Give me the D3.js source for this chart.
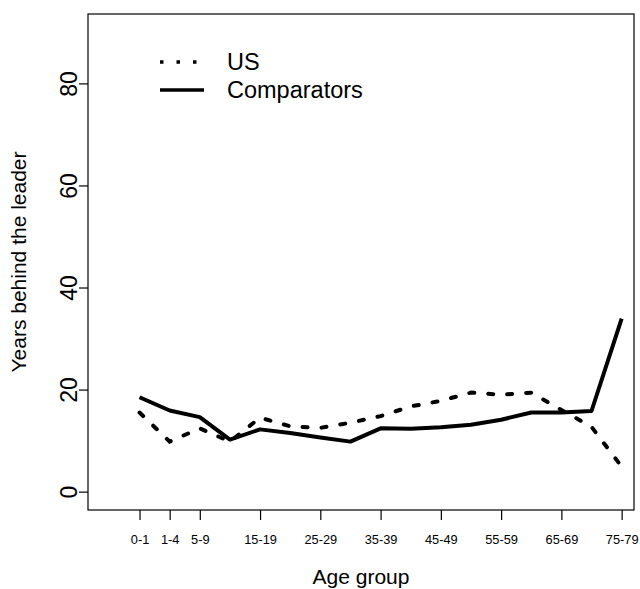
<!DOCTYPE html>
<html>
<head>
<meta charset="utf-8">
<script src="https://cdn.jsdelivr.net/npm/d3@7"></script>
<style>
  body { margin: 0; background: #fff; }
  svg { display: block; font-family: "Liberation Sans", Arial, sans-serif; }
</style>
</head>
<body>
<svg class="chart"></svg>
<script>
const ageGroups = ["0-1", "1-4", "5-9", "10-14", "15-19", "20-24", "25-29", "30-34",
  "35-39", "40-44", "45-49", "50-54", "55-59", "60-64", "65-69", "70-74", "75-79"];
const tickLabels = ["0-1", "1-4", "5-9", "15-19", "25-29", "35-39", "45-49", "55-59", "65-69", "75-79"];
const usValues = [15.5, 9.8, 12.4, 9.8, 14.5, 12.8, 12.5, 13.5, 14.8, 16.7, 17.8, 19.4, 19.0, 19.4, 16.0, 12.7, 4.9];
const comparatorValues = [18.5, 15.9, 14.6, 10.2, 12.2, 11.5, 10.6, 9.8, 12.4, 12.3, 12.6, 13.1, 14.1, 15.5, 15.5, 15.8, 33.9];
const yTicks = [0, 20, 40, 60, 80];

const width = 640;
const height = 589;
const box = {left: 88, right: 634, top: 14, bottom: 510};

// index positions, with R-style padding around the age groups
const x = d3.scaleLinear()
    .domain([-1.71, 16.41])
    .range([box.left, box.right]);

const y = d3.scaleLinear()
    .domain([-3.6, 93.6])
    .range([box.bottom, box.top]);

const svg = d3.select(".chart")
    .attr("width", width)
    .attr("height", height);

svg.append("rect")
    .attr("x", box.left)
    .attr("y", box.top)
    .attr("width", box.right - box.left)
    .attr("height", box.bottom - box.top)
    .attr("fill", "none")
    .attr("stroke", "#000")
    .attr("stroke-width", 1.2);

const xAxis = d3.axisBottom(x)
    .tickValues(tickLabels.map((d) => ageGroups.indexOf(d)))
    .tickFormat((d) => ageGroups[d])
    .tickSize(10)
    .tickPadding(15);

svg.append("g")
    .attr("transform", `translate(0,${ box.bottom })`)
    .call(xAxis)
    .call((g) => g.select(".domain").remove())
    .call((g) => g.selectAll("line").attr("stroke-width", 1.2))
    .call((g) => g.selectAll("text")
      .attr("font-size", 12.8)
      .attr("font-family", "Liberation Sans, Arial, sans-serif")
      .attr("fill", "#000"));

const yAxis = d3.axisLeft(y)
    .tickValues(yTicks)
    .tickSize(9)
    .tickFormat((d) => d);

const yG = svg.append("g")
    .attr("transform", `translate(${ box.left },0)`)
    .call(yAxis)
    .call((g) => g.select(".domain").remove())
    .call((g) => g.selectAll("line").attr("stroke-width", 1.2));

yG.selectAll("text")
    .attr("x", null)
    .attr("dy", null)
    .attr("font-size", 23)
    .attr("font-family", "Liberation Sans, Arial, sans-serif")
    .attr("fill", "#000")
    .attr("text-anchor", "middle")
    .attr("transform", "translate(-11,0) rotate(-90)");

svg.append("text")
    .attr("transform", `translate(26,${ (box.top + box.bottom) / 2 }) rotate(-90)`)
    .attr("text-anchor", "middle")
    .attr("font-size", 21)
    .text("Years behind the leader");

svg.append("text")
    .attr("x", (box.left + box.right) / 2)
    .attr("y", 584)
    .attr("text-anchor", "middle")
    .attr("font-size", 21)
    .text("Age group");

const line = (values) => d3.line()
    .x((d, i) => x(i))
    .y((d) => y(d))(values);

svg.append("path")
    .attr("d", line(usValues))
    .attr("fill", "none")
    .attr("stroke", "#000")
    .attr("stroke-width", 4)
    .attr("stroke-linecap", "round")
    .attr("stroke-dasharray", "5 14");

svg.append("path")
    .attr("d", line(comparatorValues))
    .attr("fill", "none")
    .attr("stroke", "#000")
    .attr("stroke-width", 4)
    .attr("stroke-linejoin", "round");

// legend
const legend = svg.append("g");
const legendItems = [
  {name: "US", dash: "3.5 13", y: 62},
  {name: "Comparators", dash: null, y: 90}
];

legendItems.forEach((d) => {
  legend.append("line")
      .attr("x1", 160)
      .attr("x2", 204)
      .attr("y1", d.y)
      .attr("y2", d.y)
      .attr("stroke", "#000")
      .attr("stroke-width", 3.5)
      .attr("stroke-dasharray", d.dash);
  legend.append("text")
      .attr("x", 227)
      .attr("y", d.y + 8)
      .attr("font-size", 23.5)
      .text(d.name);
});
</script>
</body>
</html>
